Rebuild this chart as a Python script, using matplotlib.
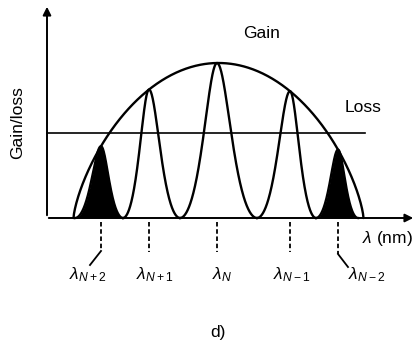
import numpy as np
import matplotlib
matplotlib.use("Agg")
import matplotlib.pyplot as plt

plt.rcParams['font.family'] = ['Liberation Sans', 'DejaVu Sans']
plt.rcParams['mathtext.fontset'] = 'custom'
plt.rcParams['mathtext.rm'] = 'Liberation Sans'
plt.rcParams['mathtext.it'] = 'Liberation Sans:italic'

# mode labels and positions (arbitrary wavelength units, origin at axis corner)
mode_labels = [r'$\lambda_{N+2}$', r'$\lambda_{N+1}$', r'$\lambda_{N}$', r'$\lambda_{N-1}$', r'$\lambda_{N-2}$']
mode_centers = [54, 102, 170, 243, 291]
comb_minima = [28, 76, 133, 210, 269, 311]
mode_filled = [True, False, False, False, True]

# gain envelope and loss level
gain_center = 171.5
gain_halfwidth = 145
gain_height = 155
gain_power = 0.72
loss_level = 85
finesse_coef = 1.1


def gain(x):
    u = np.clip((np.asarray(x) - gain_center) / gain_halfwidth, -1, 1)
    return gain_height * (1 - u ** 2) ** gain_power


def mode_shape(x, left, c, right, height):
    # Airy-like transmission, shifted so the minima sit on the axis
    t = np.where(x < c, (x - c) / (c - left), (x - c) / (right - c))
    a = 1 / (1 + finesse_coef * np.sin(np.pi * t / 2) ** 2)
    a_min = 1 / (1 + finesse_coef)
    return height * (a - a_min) / (1 - a_min)


fig = plt.figure(figsize=(4.17, 3.48), dpi=100)
ax = fig.add_axes([0, 0, 1, 1])
ax.set_xlim(-47, 370)
ax.set_ylim(-130, 218)
ax.axis('off')

lw = 1.7
fs = 12.5

# axes with arrows
ax.annotate('', xy=(0, 214), xytext=(0, 0),
            arrowprops=dict(arrowstyle='-|>', lw=1.4, color='black', mutation_scale=12))
ax.annotate('', xy=(369, 0), xytext=(-1, 0),
            arrowprops=dict(arrowstyle='-|>', lw=1.4, color='black', mutation_scale=12))

# gain envelope
xg = np.linspace(gain_center - gain_halfwidth, gain_center + gain_halfwidth, 600)
ax.plot(xg, gain(xg), color='black', lw=lw, solid_capstyle='round')

# loss line
ax.plot([0, 318], [loss_level, loss_level], color='black', lw=1.2)

# longitudinal modes
for i, c in enumerate(mode_centers):
    left, right = comb_minima[i], comb_minima[i + 1]
    xs = np.linspace(left, right, 300)
    ys = mode_shape(xs, left, c, right, gain(c))
    if mode_filled[i]:
        ax.fill_between(xs, 0, ys, color='black', lw=0)
    ax.plot(xs, ys, color='black', lw=lw)

# dashed markers and labels
label_x = [41, 108, 175, 245, 320]
for i, c in enumerate(mode_centers):
    if i == 0:
        ax.plot([c, c], [-4, -33], color='black', lw=1.3, ls=(0, (2.5, 1.5)))
        ax.plot([c, c - 11], [-33, -47], color='black', lw=1.3)
    elif i == len(mode_centers) - 1:
        ax.plot([c, c], [-4, -36], color='black', lw=1.3, ls=(0, (2.5, 1.5)))
        ax.plot([c, c + 10], [-36, -49], color='black', lw=1.3)
    else:
        ax.plot([c, c], [-4, -34], color='black', lw=1.3, ls=(0, (2.5, 1.5)))
    ax.text(label_x[i], -57, mode_labels[i], ha='center', va='center', fontsize=fs)

ax.text(215, 185, 'Gain', ha='center', va='center', fontsize=fs)
ax.text(316, 111, 'Loss', ha='center', va='center', fontsize=fs)
ax.text(340, -20, r'$\lambda$ (nm)', ha='center', va='center', fontsize=fs)
ax.text(-29, 95, 'Gain/loss', ha='center', va='center', rotation=90, fontsize=fs)
ax.text(171, -115, 'd)', ha='center', va='center', fontsize=fs)

fig.savefig('out.png', dpi=100)
